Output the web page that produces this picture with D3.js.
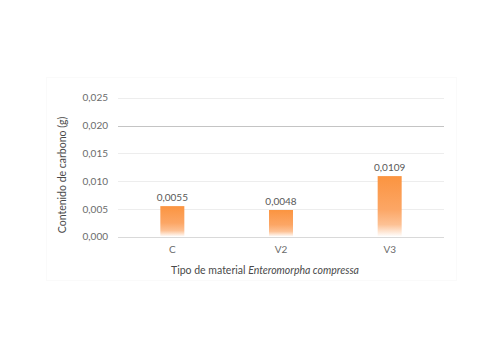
<!DOCTYPE html>
<html><head><meta charset="utf-8">
<script src="https://cdn.jsdelivr.net/npm/d3@7"></script>
<style>body{margin:0;background:#fff}svg{display:block}</style>
</head><body><svg id="c" width="500" height="357"></svg>
<script>
const categories = ["C", "V2", "V3"];
const values = [0.0055, 0.0048, 0.0109];
const yTicks = [0, 0.005, 0.010, 0.015, 0.020, 0.025];
const yTitle = "Contenido de carbono (g)";
const xTitlePlain = "Tipo de material ";
const xTitleItalic = "Enteromorpha compressa";

const svg = d3.select("#c");
const font = "Lato, 'Open Sans', sans-serif";
const m = {left:118, right:444, top:97.7, bottom:236.7};

const defs = svg.append("defs");
const g = defs.append("linearGradient").attr("id","grad").attr("x1",0).attr("y1",0).attr("x2",0).attr("y2",1);
g.append("stop").attr("offset","0%").attr("stop-color","#FB9440");
g.append("stop").attr("offset","55%").attr("stop-color","#FCA665");
g.append("stop").attr("offset","80%").attr("stop-color","#FDC194");
g.append("stop").attr("offset","100%").attr("stop-color","#FFFFFF");

// faint chart frame
svg.append("rect").attr("x",46.5).attr("y",77.5).attr("width",410).attr("height",203)
  .attr("fill","none").attr("stroke","#fafafa").attr("stroke-width",1);

const x = d3.scaleBand().domain(categories).range([m.left, m.right]).paddingInner(0).paddingOuter(0);
const y = d3.scaleLinear().domain([0, 0.025]).range([m.bottom, m.top]);
const fmt3 = v => d3.format(".3f")(v).replace(".", ",");
const fmt4 = v => d3.format(".4f")(v).replace(".", ",");

// gridlines
svg.append("g").selectAll("line").data(yTicks).join("line")
  .attr("x1", m.left).attr("x2", m.right)
  .attr("y1", d => Math.round(y(d))+0.5).attr("y2", d => Math.round(y(d))+0.5)
  .attr("stroke", d => d===0.020 ? "#c4c4c4" : (d===0 ? "#d9d9d9" : "#ededed"))
  .attr("stroke-width", 1);

// y axis labels
const yAxis = d3.axisLeft(y).tickValues(yTicks).tickFormat(fmt3).tickSize(0).tickPadding(0);
const ya = svg.append("g").attr("transform", `translate(108,0)`).call(yAxis);
ya.select(".domain").remove();
ya.selectAll("text").attr("fill","#6b6b6b").style("font-family",font).style("font-size","10px");

// x axis labels
const xAxis = d3.axisBottom(x).tickSize(0).tickPadding(0);
const xa = svg.append("g").attr("transform", `translate(0,246)`).call(xAxis);
xa.select(".domain").remove();
xa.selectAll("text").attr("fill","#6b6b6b").style("font-family",font).style("font-size","10px");

// bars
const bw = 24;
svg.append("g").selectAll("rect").data(values).join("rect")
  .attr("x", (d,i) => x(categories[i]) + x.bandwidth()/2 - bw/2)
  .attr("y", d => y(d))
  .attr("width", bw)
  .attr("height", d => y(0) - y(d))
  .attr("fill", "url(#grad)");

// value labels
svg.append("g").selectAll("text").data(values).join("text")
  .attr("x", (d,i) => x(categories[i]) + x.bandwidth()/2)
  .attr("y", d => y(d) - 5)
  .attr("text-anchor","middle")
  .attr("fill","#595959").style("font-family",font).style("font-size","10px")
  .text(d => fmt4(d));

// axis titles
svg.append("text").attr("transform","translate(66,175) rotate(-90)")
  .attr("text-anchor","middle").attr("fill","#4a4a4a")
  .style("font-family",font).style("font-size","10.5px").text(yTitle);

const xt = svg.append("text").attr("x",265).attr("y",274).attr("text-anchor","middle")
  .attr("fill","#4a4a4a").style("font-family",font).style("font-size","10.5px");
xt.append("tspan").text(xTitlePlain);
xt.append("tspan").style("font-style","italic").text(xTitleItalic);
</script></body></html>
